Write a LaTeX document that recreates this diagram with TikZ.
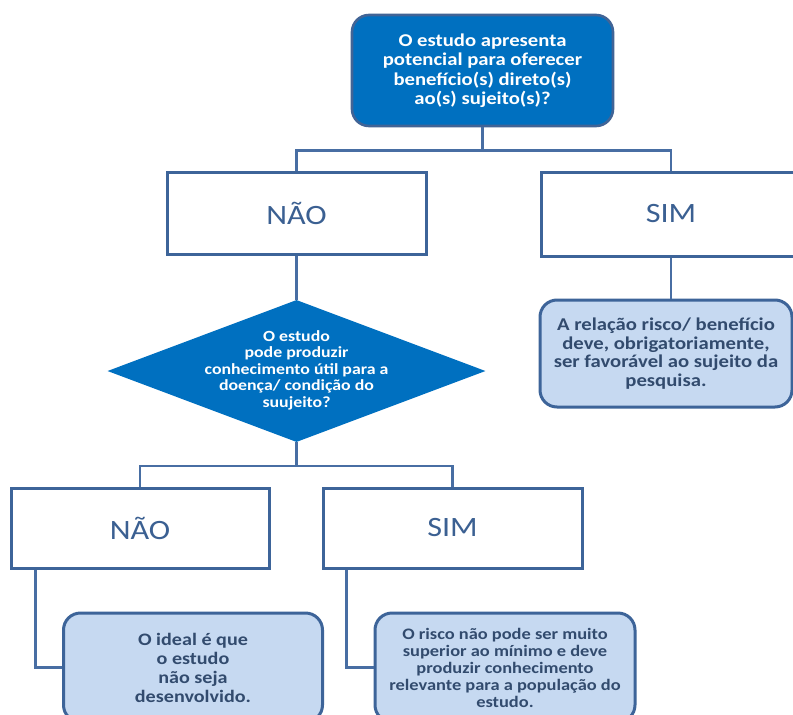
\documentclass[tikz,border=0pt]{standalone}
\usepackage{fontspec}
\setmainfont[FakeStretch=1.15]{Carlito}
\usetikzlibrary{shapes.geometric,calc}
\definecolor{topfill}{RGB}{0,112,192}
\definecolor{topborder}{RGB}{65,100,150}
\definecolor{boxborder}{RGB}{61,100,153}
\definecolor{boxtext}{RGB}{59,96,146}
\definecolor{lightfill}{RGB}{198,217,241}
\definecolor{lighttext}{RGB}{50,75,110}
\definecolor{linecol}{RGB}{72,110,163}
\tikzset{
  topbox/.style={draw=topborder, line width=2.6pt, fill=topfill, rounded corners=17pt,
    text=white, font=\bfseries\fontsize{18}{19.5}\selectfont, align=center, inner sep=0pt},
  answerbox/.style={draw=boxborder, line width=3pt, fill=white, text=boxtext,
    font=\fontsize{28}{32}\selectfont, inner sep=0pt},
  notebox/.style={draw=boxborder, line width=3pt, fill=lightfill, rounded corners=17pt,
    text=lighttext, font=\bfseries\fontsize{18}{18.5}\selectfont, align=center, inner sep=0pt},
  qdiamond/.style={diamond, fill=topfill, draw=none, inner sep=0pt},
  qtext/.style={text=white, font=\bfseries\fontsize{15.5}{16.5}\selectfont, align=center},
  conn/.style={draw=linecol, line width=2.4pt}
}
\begin{document}
\begin{tikzpicture}[x=1pt,y=-1pt]
\clip (0,0) rectangle (793,715);
\fill[white] (0,0) rectangle (793,715);
% nodes
\node[topbox, minimum width=261, minimum height=111] (top) at (482.5,70.5)
  {O estudo apresenta\\potencial para oferecer\\benefício(s) direto(s)\\ao(s) sujeito(s)?};
\node[answerbox, minimum width=259, minimum height=82] (n1) at (296.5,213) {NÃO};
\node[answerbox, minimum width=259, minimum height=84] (s1) at (671,214) {SIM};
\node[notebox, minimum width=252, minimum height=107] (r1) at (666,353.5)
  {A relação risco/ benefício\\deve, obrigatoriamente,\\ser favorável ao sujeito da\\pesquisa.};
\node[qdiamond, minimum width=378, minimum height=142] (q2) at (296.5,371) {};
\node[qtext] (q2t) at (296.5,370)
  {O estudo\\pode produzir\\conhecimento útil para a\\doença/ condição do\\suujeito?};
\node[answerbox, minimum width=258, minimum height=80] (n2) at (140,528) {NÃO};
\node[answerbox, minimum width=259, minimum height=80] (s2) at (452.5,528) {SIM};
\node[notebox, minimum width=259, minimum height=109, font=\bfseries\fontsize{17.5}{19}\selectfont] (l1) at (193,667.5)
  {O ideal é que\\o estudo\\não seja\\desenvolvido.};
\node[notebox, minimum width=260, minimum height=109, font=\bfseries\fontsize{16}{17}\selectfont] (l2) at (505,667.5)
  {O risco não pode ser muito\\superior ao mínimo e deve\\produzir conhecimento\\relevante para a população do\\estudo.};
% junctions
\path (top.south) ++(0,23) coordinate (j1);
\path (q2.south) ++(0,24) coordinate (j2);
\coordinate (a2) at ($(n2.south west)+(26,0)$);
\coordinate (b2) at ($(s2.south west)+(25,0)$);
% connectors
\draw[conn] (top.south) -- (j1);
\draw[conn] (n1.north) |- (j1) -| (s1.north);
\draw[conn] (n1.south) -- (q2.north);
\draw[conn] (s1.south) -- (s1.south |- r1.north);
\draw[conn] (q2.south) -- (j2);
\draw[conn] (n2.north) |- (j2) -| (s2.north);
\draw[conn] (a2) |- (l1.west);
\draw[conn] (b2) |- (l2.west);
\end{tikzpicture}
\end{document}
